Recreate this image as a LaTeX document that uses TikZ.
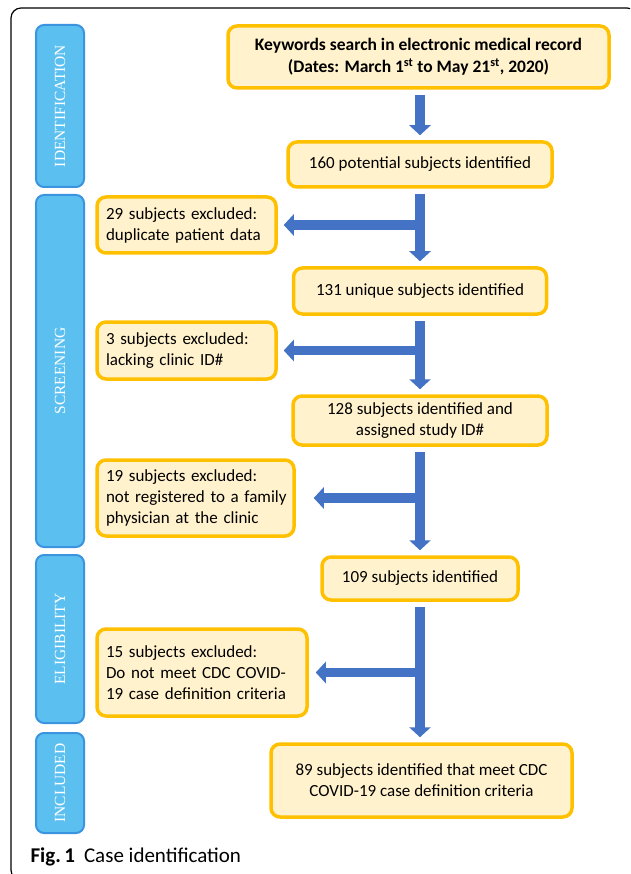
\documentclass[tikz,border=0pt]{standalone}
\usepackage{fontspec}
\setmainfont{Carlito}
\newfontfamily\barfont{Liberation Serif}
\usetikzlibrary{arrows.meta}
\definecolor{boxfill}{HTML}{FFF2CC}
\definecolor{boxline}{HTML}{FFC000}
\definecolor{barfill}{HTML}{5BC0F0}
\definecolor{barline}{HTML}{3A94E0}
\definecolor{flowblue}{HTML}{4472C4}
\tikzset{
  stage/.style={draw=boxline, fill=boxfill, line width=3.5pt, rounded corners=9pt,
    inner sep=0pt, align=center, font=\fontsize{17}{21}\selectfont},
  excl/.style={stage, align=left, inner xsep=9pt},
  phase/.style={draw=barline, fill=barfill, line width=2pt, rounded corners=8pt,
    minimum height=48pt, inner sep=0pt, rotate=90, text=white,
    font=\barfont\fontsize{15.5}{18}\selectfont},
  flow/.style={draw=flowblue, line width=9.5pt, -{Triangle[width=21pt,length=10pt]},
    shorten <=5pt, shorten >=5pt},
}
\begin{document}
\begin{tikzpicture}[x=1pt, y=-1pt]
\useasboundingbox (0,0) rectangle (630,874);
\begin{scope}
\clip (0,0) rectangle (630,874);
\draw[line width=1.2pt, rounded corners=10pt] (11,8) rectangle (637,880);
\end{scope}

% phases
\node[phase, minimum width=162pt] (ident) at (60,106) {IDENTIFICATION};
\node[phase, minimum width=352pt] (screen) at (60,371) {SCREENING};
\node[phase, minimum width=168pt] (elig) at (60,639) {ELIGIBILITY};
\node[phase, minimum width=100pt] (incl) at (60,783) {INCLUDED};

% main column
\node[stage, minimum width=381pt, minimum height=62pt, font=\bfseries\fontsize{17.5}{22}\selectfont] (kw) at (418.5,57)
  {Keywords search in electronic medical record\\(Dates: March 1\textsuperscript{st} to May 21\textsuperscript{st}, 2020)};
\node[stage, minimum width=264pt, minimum height=45pt] (n160) at (420,164.5) {160 potential subjects identified};
\node[stage, minimum width=253pt, minimum height=46pt] (n131) at (420,291) {131 unique subjects identified};
\node[stage, minimum width=254pt, minimum height=49pt] (n128) at (420,420.5) {128 subjects identified and\\assigned study ID\#};
\node[stage, minimum width=196pt, minimum height=43pt] (n109) at (420,578.5) {109 subjects identified};
\node[stage, minimum width=301pt, minimum height=73pt] (n89) at (421.5,780.5) {89 subjects identified that meet CDC\\COVID-19 case definition criteria};

% exclusions
\node[excl, text width=161pt, minimum height=56pt] (ex29) at (186.5,225) {29 subjects excluded:\\duplicate patient data};
\node[excl, text width=161pt, minimum height=57pt] (ex3) at (186.5,350.5) {3 subjects excluded:\\lacking clinic ID\#};
\node[excl, text width=179pt, minimum height=76pt] (ex19) at (195.5,498)
  {19 subjects excluded:\\\mbox{not registered to a family}\\physician at the clinic};
\node[excl, text width=192pt, minimum height=87pt] (ex15) at (202,672.5) {15 subjects excluded:\\Do not meet CDC COVID-\\19 case definition criteria};

% arrows
\draw[flow, shorten <=0pt, shorten >=6pt] (n160.south |- ex29.east) -- (ex29.east);
\draw[flow, shorten <=0pt, shorten >=6pt] (n131.south |- ex3.east) -- (ex3.east);
\draw[flow, shorten <=0pt, shorten >=18pt] (n128.south |- ex19.east) -- (ex19.east);
\draw[flow, shorten <=0pt, shorten >=7pt] (n109.south |- ex15.east) -- (ex15.east);
\draw[flow] (kw.south -| n160.north) -- (n160.north);
\draw[flow] (n160.south) -- (n131.north);
\draw[flow] (n131.south) -- (n128.north);
\draw[flow] (n128.south) -- (n109.north);
\draw[flow] (n109.south) -- (n109.south |- n89.north);

\node[anchor=base west, font=\fontsize{21}{24}\selectfont] (caption) at (27,862)
  {\textbf{Fig.\,1}\hspace{9pt}Case identification};
\end{tikzpicture}
\end{document}
